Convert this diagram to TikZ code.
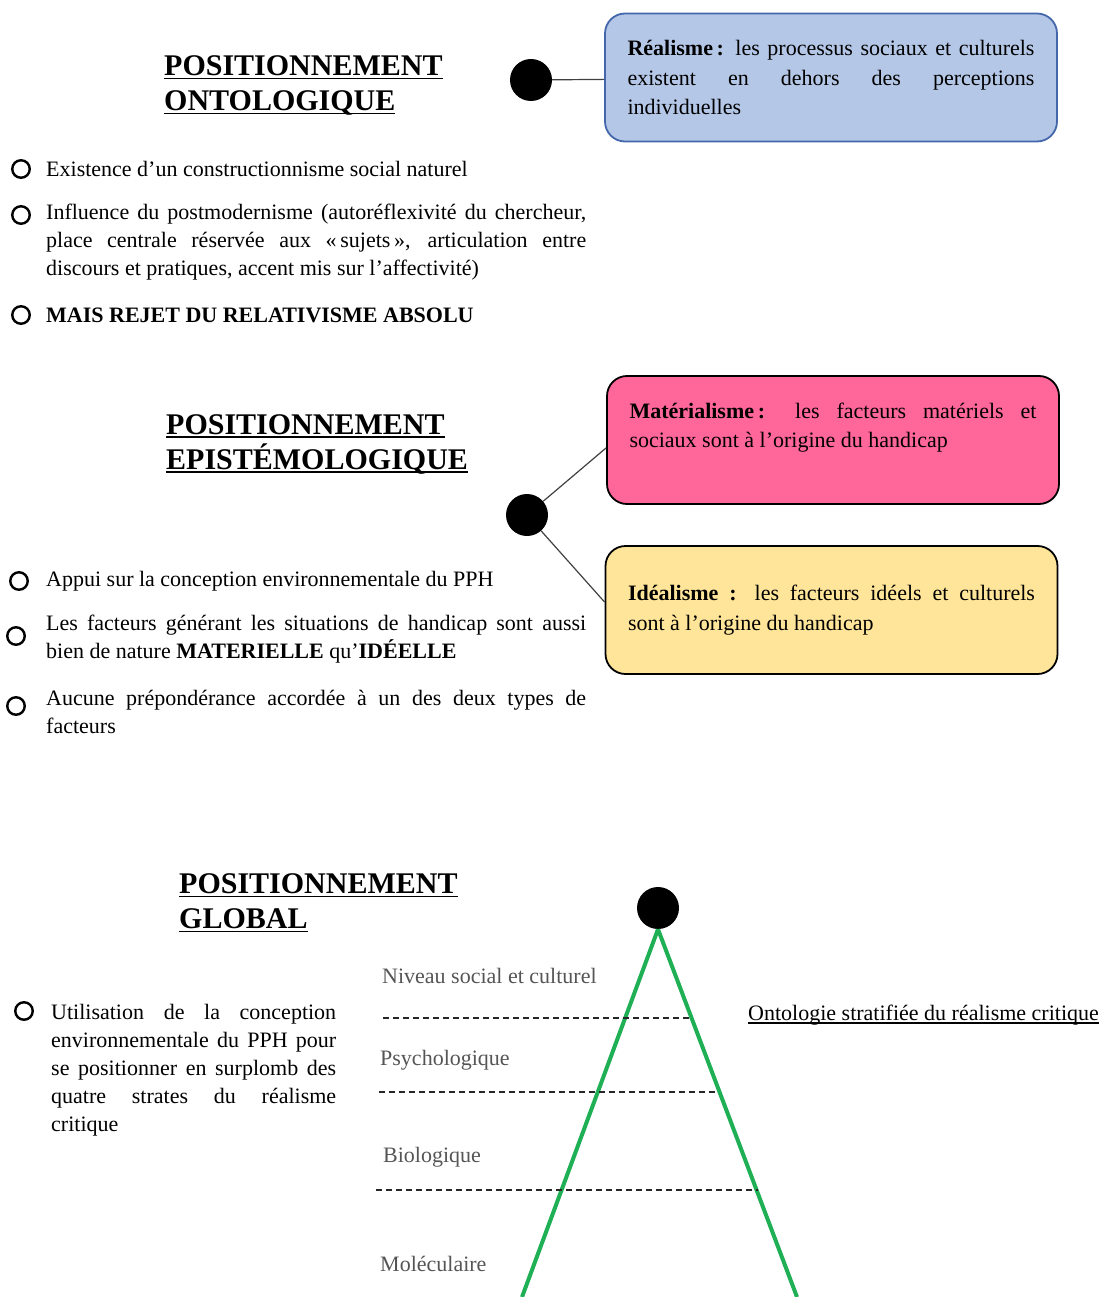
\documentclass[tikz,border=0pt]{standalone}
\usepackage{fontspec}
\setmainfont{Liberation Serif}
\definecolor{bleuclair}{RGB}{180,199,231}
\definecolor{bleutrait}{RGB}{68,102,170}
\definecolor{rose}{RGB}{255,102,153}
\definecolor{jaune}{RGB}{255,229,153}
\definecolor{vert}{RGB}{31,175,84}
\definecolor{gris}{RGB}{85,85,85}
\definecolor{trait}{RGB}{64,64,64}
\newcommand{\souligne}[1]{\setbox0\hbox{#1}\leavevmode\rlap{\rule[-3.5pt]{\wd0}{1.4pt}}\box0}

\begin{document}
\begin{tikzpicture}[x=1pt, y=-1pt,
  blob/.style={circle, fill, inner sep=0pt, minimum size=42pt},
  puce/.style={circle, draw, line width=2.4pt, inner sep=0pt, minimum size=17.5pt},
  texte/.style={anchor=west, inner sep=0pt, text width=540pt, align=justify, font=\fontsize{22}{28}\selectfont},
  titre/.style={anchor=west, inner sep=0pt, align=left, font=\fontsize{30}{35}\selectfont\bfseries},
  cadre/.style={rectangle, rounded corners=20pt, line width=1.8pt, minimum width=452pt, minimum height=128pt, text width=407pt, align=justify, font=\fontsize{22}{29.5}\selectfont},
  niveau/.style={anchor=west, inner sep=0pt, text=gris, font=\fontsize{22}{28}\selectfont},
  lien/.style={draw=trait, line width=1.2pt},
  strate/.style={draw=black!85, line width=1.3pt, dash pattern=on 6pt off 4pt},
  pente/.style={draw=vert, line width=4pt}]
\useasboundingbox (0,0) rectangle (1107,1297);

% ontologique
\node[titre] (titre1) at (164,86) {\souligne{POSITIONNEMENT}\\\souligne{ONTOLOGIQUE}};
\node[blob] (dot1) at (531,80){};
\node[cadre, draw=bleutrait, fill=bleuclair] (realisme) at (831,77.5) {\textbf{Réalisme\,:} les processus sociaux et culturels\linebreak existent en dehors des perceptions\linebreak individuelles};
\draw[lien](dot1) -- (realisme);

\node[puce] (p1) at (21,169){};
\node[texte] (t1) at (46,169) {Existence d’un constructionnisme social naturel};
\node[puce] (p2) at (21,215){};
\node[texte] (t2) at (46,242) {Influence du postmodernisme (autoréflexivité du chercheur,\linebreak place centrale réservée aux «\,sujets\,», articulation entre\linebreak discours et pratiques, accent mis sur l’affectivité)};
\node[puce] (p3) at (21,315){};
\node[texte, font=\fontsize{22}{28}\selectfont\bfseries] (t3) at (46,315) {MAIS REJET DU RELATIVISME ABSOLU};

% epistemologique
\node[titre] (titre2) at (166,444) {\souligne{POSITIONNEMENT}\\\souligne{EPISTÉMOLOGIQUE}};
\node[blob] (dot2) at (527,515){};
\node[cadre, draw=black, fill=rose] (mat) at (833,440) {\textbf{Matérialisme\,:} les facteurs matériels et\linebreak sociaux sont à l’origine du handicap\par\mbox{}};
\node[cadre, draw=black, fill=jaune] (ideal) at (831.5,610) {\textbf{Idéalisme :} les facteurs idéels et culturels\linebreak sont à l’origine du handicap};
\draw[lien](dot2) -- (mat.182);
\draw[lien](dot2) -- (ideal.178);

\node[puce] (p4) at (19,581){};
\node[texte] (t4) at (46,581) {Appui sur la conception environnementale du PPH};
\node[puce] (p5) at (16,636){};
\node[texte] (t5) at (46,639.5) {Les facteurs générant les situations de handicap sont aussi\linebreak bien de nature \textbf{MATERIELLE} qu’\textbf{IDÉELLE}};
\node[puce] (p6) at (16,706){};
\node[texte] (t6) at (46,712) {Aucune prépondérance accordée à un des deux types de\linebreak facteurs};

% global
\node[titre] (titre3) at (179,903) {\souligne{POSITIONNEMENT}\\\souligne{GLOBAL}};
\coordinate (pied1) at (522,1297);
\coordinate (pied2) at (797,1297);
\node[blob] (dot3) at (658,908){};
\draw[pente](dot3.south) -- (pied1);
\draw[pente](dot3.south) -- (pied2);

\node[niveau] (n1) at (382,976) {Niveau social et culturel};
\node[niveau] (n2) at (380,1060) {Psychologique};
\node[niveau] (n3) at (383,1157) {Biologique};
\node[niveau] (n4) at (380,1264) {Moléculaire};
\draw[strate] (383,1018) -- (692,1018);
\draw[strate] (379,1092) -- (718,1092);
\draw[strate] (376,1190) -- (758,1190);
\node[niveau, text=black] (onto) at (748,1015) {\souligne{Ontologie stratifiée du réalisme critique}};

\node[puce] (p7) at (24,1011){};
\node[texte, text width=285pt] (t7) at (51,1070.5) {Utilisation de la conception\linebreak environnementale du PPH pour\linebreak se positionner en surplomb des\linebreak quatre strates du réalisme\linebreak critique};
\end{tikzpicture}
\end{document}
